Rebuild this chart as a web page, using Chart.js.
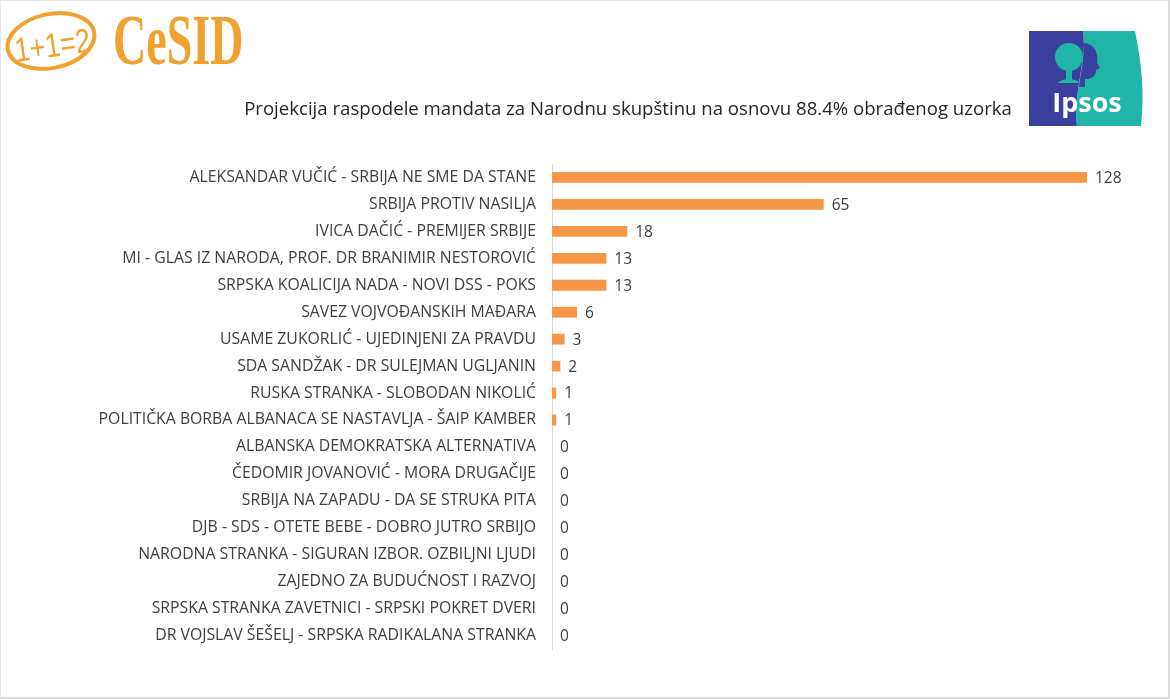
<!DOCTYPE html>
<html>
<head>
<meta charset="utf-8">
<script src="https://cdn.jsdelivr.net/npm/chart.js@4"></script>
<style>
  html, body { margin: 0; padding: 0; background: #fff; }
  #page { position: relative; width: 1170px; height: 699px; overflow: hidden;
    box-sizing: border-box; border: 2px solid #dcdcdc; border-top: 1px solid #e6e6e6; border-left: 1px solid #e6e6e6; }
  #chart { position: absolute; left: 0; top: 0; }
  #title { position: absolute; left: 0; width: 1254px; top: 94px; text-align: center;
    font-family: "Open Sans", sans-serif; font-size: 18.6px; color: #262626; }
  #cesid { position: absolute; left: 112px; top: -2px; font-family: "Liberation Serif", serif;
    font-weight: bold; font-size: 72px; color: #F2A12E; transform: scaleX(0.64); transform-origin: left top; }
  #ipsos { position: absolute; left: 1028px; top: 30px; }
</style>
</head>
<body>
<div id="page">
  <canvas id="chart" width="1170" height="699"></canvas>
  <svg style="position:absolute;left:2px;top:3px" width="100" height="70" viewBox="0 0 100 70">
    <ellipse cx="48" cy="37" rx="44" ry="27" transform="rotate(-12 48 37)" fill="none" stroke="#F2A12E" stroke-width="4"/>
    <text x="11" y="53" textLength="76" lengthAdjust="spacingAndGlyphs" font-family="Liberation Sans, sans-serif" font-size="34" fill="#F2A12E" transform="rotate(-8 48 37)">1+1=2</text>
  </svg>
  <div id="cesid">CeSID</div>
  <svg id="ipsos" width="116" height="95" viewBox="0 0 116 95">
    <path d="M54 0 H106 C112 30 116 60 112 95 H48 C44 62 58 30 54 0 Z" fill="#1FB5A8"/>
    <path d="M0 0 H54 C58 30 44 62 48 95 H0 Z" fill="#3B3F9E"/>
    <circle cx="40" cy="26" r="14" fill="#1FB5A8"/>
    <rect x="37" y="36" width="6" height="14" fill="#1FB5A8"/>
    <path d="M28 52 Q40 44 52 52 Z" fill="#1FB5A8"/>
    <path d="M54 12 C66 12 70 24 68 32 L71 37 L67 39 C67 46 62 48 56 48 L56 56 L50 56 C52 40 56 26 54 12 Z" fill="#3B3F9E"/>
    <text x="58" y="81" text-anchor="middle" font-family="Open Sans, sans-serif" font-weight="bold" font-size="27" fill="#fff">Ipsos</text>
  </svg>
  <div id="title">Projekcija raspodele mandata za Narodnu skupštinu na osnovu 88.4% obrađenog uzorka</div>
</div>
<script>
const PARTIES = [
  "ALEKSANDAR VUČIĆ - SRBIJA NE SME DA STANE",
  "SRBIJA PROTIV NASILJA",
  "IVICA DAČIĆ - PREMIJER SRBIJE",
  "MI - GLAS IZ NARODA, PROF. DR BRANIMIR NESTOROVIĆ",
  "SRPSKA KOALICIJA NADA - NOVI DSS - POKS",
  "SAVEZ VOJVOĐANSKIH MAĐARA",
  "USAME ZUKORLIĆ - UJEDINJENI ZA PRAVDU",
  "SDA SANDŽAK - DR SULEJMAN UGLJANIN",
  "RUSKA STRANKA - SLOBODAN NIKOLIĆ",
  "POLITIČKA BORBA ALBANACA SE NASTAVLJA - ŠAIP KAMBER",
  "ALBANSKA DEMOKRATSKA ALTERNATIVA",
  "ČEDOMIR JOVANOVIĆ - MORA DRUGAČIJE",
  "SRBIJA NA ZAPADU - DA SE STRUKA PITA",
  "DJB - SDS - OTETE BEBE - DOBRO JUTRO SRBIJO",
  "NARODNA STRANKA - SIGURAN IZBOR. OZBILJNI LJUDI",
  "ZAJEDNO ZA BUDUĆNOST I RAZVOJ",
  "SRPSKA STRANKA ZAVETNICI - SRPSKI POKRET DVERI",
  "DR VOJSLAV ŠEŠELJ - SRPSKA RADIKALANA STRANKA",
];
const SEATS = [128, 65, 18, 13, 13, 6, 3, 2, 1, 1, 0, 0, 0, 0, 0, 0, 0, 0];

const FONT = "'Open Sans', sans-serif";

// value labels after each bar end
const valueLabels = {
  id: "valueLabels",
  afterDatasetsDraw(chart) {
    const { ctx } = chart;
    const meta = chart.getDatasetMeta(0);
    ctx.save();
    ctx.font = "15.5px " + FONT;
    ctx.fillStyle = "#404040";
    ctx.textBaseline = "middle";
    ctx.textAlign = "left";
    meta.data.forEach((bar, i) => {
      ctx.fillText(String(SEATS[i]), bar.x + 8, bar.y + 1);
    });
    ctx.restore();
  },
};

new Chart(document.getElementById("chart"), {
  type: "bar",
  data: {
    labels: PARTIES,
    datasets: [{
      data: SEATS,
      backgroundColor: "#F79646",
      barPercentage: 0.4,
      categoryPercentage: 1,
    }],
  },
  options: {
    indexAxis: "y",
    responsive: false,
    animation: false,
    layout: { padding: { left: 0, right: 84, top: 163, bottom: 51 } },
    plugins: { legend: { display: false }, tooltip: { enabled: false } },
    scales: {
      x: { display: false, min: 0, max: 128 },
      y: {
        afterFit: (s) => { s.width = 551; },
        grid: { display: true, drawOnChartArea: false, drawTicks: false },
        border: { display: true, color: "#d9d9d9", width: 1 },
        ticks: { font: { family: FONT, size: 15.8 }, color: "#404040", padding: 16, autoSkip: false },
      },
    },
  },
  plugins: [valueLabels],
});
</script>
</body>
</html>
